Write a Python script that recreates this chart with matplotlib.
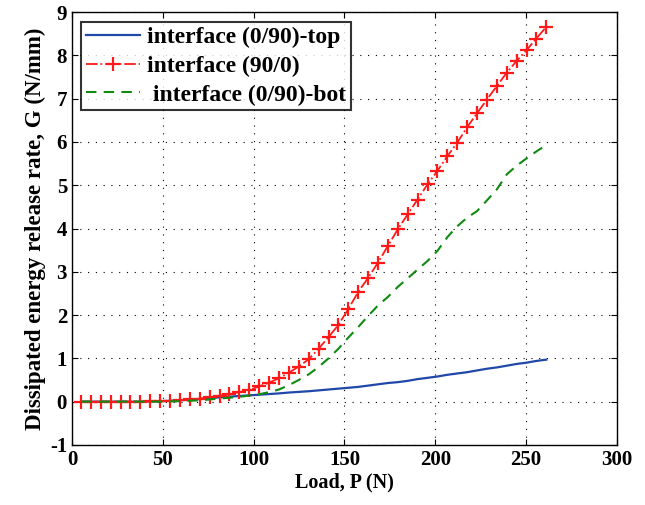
import numpy as np
import matplotlib
matplotlib.use("Agg")
import matplotlib.pyplot as plt

load = [5.0, 10.4, 15.9, 21.3, 26.8, 32.2, 37.7, 43.1, 48.6, 54.0, 59.5, 64.9,
        70.4, 75.8, 81.3, 86.7, 92.2, 97.6, 103.0, 108.5, 113.9, 119.4, 124.8,
        130.3, 135.7, 141.2, 146.6, 152.1, 157.5, 163.0, 168.4, 173.9, 179.3,
        184.8, 190.2, 195.7, 201.1, 206.6, 212.0, 217.5, 222.9, 228.4, 233.8,
        239.3, 244.7, 250.2, 255.6, 261.1]

g_top = [0.0, 0.0, 0.0, 0.0, 0.0, 0.0, 0.0, 0.005, 0.01, 0.02, 0.03, 0.045,
         0.06, 0.08, 0.10, 0.115, 0.13, 0.145, 0.16, 0.175, 0.19, 0.21, 0.225,
         0.24, 0.26, 0.28, 0.30, 0.32, 0.34, 0.37, 0.40, 0.43, 0.45, 0.48, 0.52,
         0.55, 0.58, 0.62, 0.65, 0.68, 0.72, 0.76, 0.79, 0.83, 0.87, 0.90, 0.94, 0.97]

g_mid = [0.0, 0.0, 0.0, 0.0, 0.0, 0.0, 0.0, 0.005, 0.01, 0.015, 0.03, 0.05,
         0.07, 0.10, 0.14, 0.18, 0.22, 0.27, 0.35, 0.44, 0.54, 0.67, 0.81, 0.98,
         1.22, 1.49, 1.77, 2.14, 2.53, 2.86, 3.21, 3.60, 3.98, 4.33, 4.67, 5.02,
         5.33, 5.67, 5.98, 6.34, 6.66, 6.98, 7.29, 7.60, 7.87, 8.12, 8.39, 8.66]

g_bot = [0.0, 0.0, 0.0, 0.0, 0.0, 0.0, 0.0, 0.0, 0.0, 0.005, 0.01, 0.02,
         0.03, 0.05, 0.07, 0.09, 0.11, 0.14, 0.17, 0.22, 0.28, 0.38, 0.50, 0.63,
         0.80, 1.00, 1.22, 1.48, 1.72, 1.98, 2.22, 2.42, 2.65, 2.85, 3.05, 3.25,
         3.48, 3.80, 4.05, 4.25, 4.40, 4.65, 4.90, 5.25, 5.45, 5.62, 5.78, 5.93]

labels = ["interface (0/90)-top", "interface (90/0)", " interface (0/90)-bot"]

plt.rcParams['font.family'] = ['Liberation Serif', 'DejaVu Serif']
plt.rcParams['font.weight'] = 'bold'
plt.rcParams['axes.unicode_minus'] = False

fig = plt.figure(figsize=(6.45, 5.05), dpi=100)
ax = fig.add_axes([0.1116, 0.119, 0.845, 0.857])

ax.plot(load, g_top, color='#1f48a8', lw=1.6, label=labels[0])
ax.plot(load, g_mid, color='#ff1a1a', lw=1.3, ls='-.', marker='+',
        markersize=10, markeredgewidth=1.6, label=labels[1])
ax.plot(load, g_bot, color='#108a10', lw=1.5, ls=(0, (5, 3.5)), label=labels[2])

ax.set_xlim(0, 300)
ax.set_ylim(-1, 9)
ax.set_xticks(np.arange(0, 301, 50))
ax.set_yticks(np.arange(-1, 10, 1))
ax.grid(True, color='black', ls=(0, (1, 6)), lw=0.8)
ax.tick_params(direction='in', top=True, right=True, labelsize=15, length=4)
for lab in ax.get_xticklabels() + ax.get_yticklabels():
    lab.set_fontweight('bold')
for s in ax.spines.values():
    s.set_linewidth(1.0)

ax.set_xlabel('Load, P (N)', fontsize=14.5, fontweight='bold', labelpad=2)
ax.set_ylabel('Dissipated energy release rate, G (N/mm)', fontsize=16.5,
              fontweight='bold', labelpad=3)

leg = ax.legend(loc='upper left', fontsize=17, frameon=True, fancybox=False,
                edgecolor='black', borderpad=0.2, labelspacing=0.3,
                handlelength=2.3, handletextpad=0.3, borderaxespad=0,
                bbox_to_anchor=(0.0165, 0.977))
leg.get_frame().set_linewidth(1.5)
for t in leg.get_texts():
    t.set_fontweight('bold')

fig.savefig('out.png', dpi=100)
